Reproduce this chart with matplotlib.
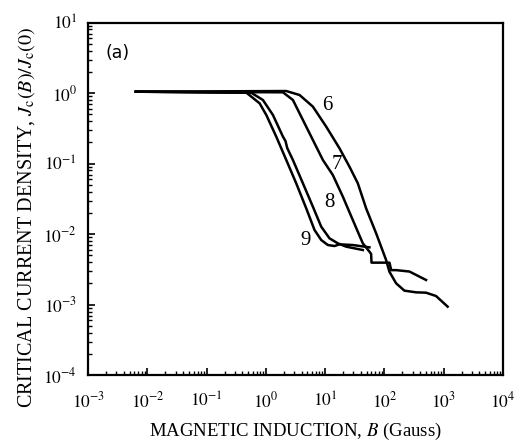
import numpy as np
import matplotlib
matplotlib.use("Agg")
import matplotlib.pyplot as plt
from matplotlib.ticker import LogLocator, FixedLocator, FuncFormatter, NullFormatter

plt.rcParams['font.family'] = ['Liberation Serif', 'DejaVu Serif']
plt.rcParams['mathtext.fontset'] = 'stix'

# data (log10 values)
logB6 = [-2.197, 0.343, 0.567, 0.792, 1.017, 1.242, 1.410, 1.551, 1.691, 1.860,
         2.028, 2.084, 2.197, 2.337, 2.534, 2.702, 2.871, 3.067]
logJ6 = [0.021, 0.030, -0.026, -0.191, -0.475, -0.783, -1.043, -1.279, -1.634, -1.988,
         -2.366, -2.532, -2.697, -2.801, -2.825, -2.830, -2.877, -3.028]

logB7 = [-2.197, 0.287, 0.455, 0.624, 0.792, 0.961, 1.129, 1.298, 1.466, 1.635,
         1.747, 1.775, 1.782, 2.085, 2.114, 2.198, 2.422, 2.703]
logJ7 = [0.021, 0.012, -0.097, -0.381, -0.664, -0.948, -1.161, -1.468, -1.799, -2.130,
         -2.248, -2.280, -2.404, -2.404, -2.510, -2.510, -2.530, -2.650]

logB8 = [-2.197, -0.247, -0.051, 0.118, 0.287, 0.330, 0.360, 0.455, 0.624, 0.792,
         0.933, 1.073, 1.213, 1.354, 1.635]
logJ8 = [0.021, 0.005, -0.097, -0.310, -0.617, -0.680, -0.780, -0.948, -1.279, -1.610,
         -1.894, -2.059, -2.130, -2.177, -2.225]

logB9 = [-2.197, -0.331, -0.107, 0.006, 0.174, 0.343, 0.511, 0.680, 0.820, 0.933,
         1.045, 1.157, 1.242, 1.466, 1.747]
logJ9 = [0.021, 0.007, -0.144, -0.310, -0.617, -0.948, -1.279, -1.634, -1.941, -2.083,
         -2.154, -2.168, -2.144, -2.154, -2.187]

curve_labels = ["6", "7", "8", "9"]
label_logB = [1.040, 1.192, 1.074, 0.669]
label_logJ = [-0.182, -1.018, -1.546, -2.085]

x_exps = [-3, -2, -1, 0, 1, 2, 3, 4]
y_exps = [-4, -3, -2, -1, 0, 1]

fig = plt.figure(figsize=(5.19, 4.44), dpi=100)
ax = fig.add_axes([0.170, 0.155, 0.799, 0.794])

for lb, lj in [(logB6, logJ6), (logB7, logJ7), (logB8, logJ8), (logB9, logJ9)]:
    ax.plot(10 ** np.array(lb), 10 ** np.array(lj), color='black', lw=1.8)

for t, lb, lj in zip(curve_labels, label_logB, label_logJ):
    ax.text(10 ** lb, 10 ** lj, t, fontsize=15, ha='center', va='center')

ax.text(0.07, 0.915, "(a)", transform=ax.transAxes, fontsize=12.5,
        family='DejaVu Sans', ha='center', va='center')

ax.set_xscale('log')
ax.set_yscale('log')
ax.set_xlim(1e-3, 1e4)
ax.set_ylim(1e-4, 1e1)

ax.xaxis.set_major_locator(FixedLocator([10.0 ** e for e in x_exps]))
ax.yaxis.set_major_locator(FixedLocator([10.0 ** e for e in y_exps]))
ax.xaxis.set_minor_locator(LogLocator(base=10, subs=np.arange(2, 10), numticks=20))
ax.yaxis.set_minor_locator(LogLocator(base=10, subs=np.arange(2, 10), numticks=20))
ax.xaxis.set_minor_formatter(NullFormatter())
ax.yaxis.set_minor_formatter(NullFormatter())
fmt = FuncFormatter(lambda v, p: r"$10^{%d}$" % int(round(np.log10(v))))
ax.xaxis.set_major_formatter(fmt)
ax.yaxis.set_major_formatter(fmt)

ax.tick_params(which='both', direction='in', top=False, right=False, labelsize=12.5)
ax.tick_params(which='major', length=5, width=1.2)
ax.tick_params(which='minor', length=3, width=1.0)
ax.tick_params(axis='x', pad=12)
ax.tick_params(axis='y', pad=8)
for s in ax.spines.values():
    s.set_linewidth(1.6)

fig.text(295 / 519, 1 - 431 / 444, r"MAGNETIC INDUCTION, $B$ (Gauss)",
         fontsize=13.5, ha='center', va='center')
fig.text(27 / 519, 1 - 218 / 444,
         r"CRITICAL CURRENT DENSITY, $J_{\rm c}(B)/J_{\rm c}(0)$",
         fontsize=14.5, rotation=90, ha='center', va='center')

fig.savefig("out.png", dpi=100)
